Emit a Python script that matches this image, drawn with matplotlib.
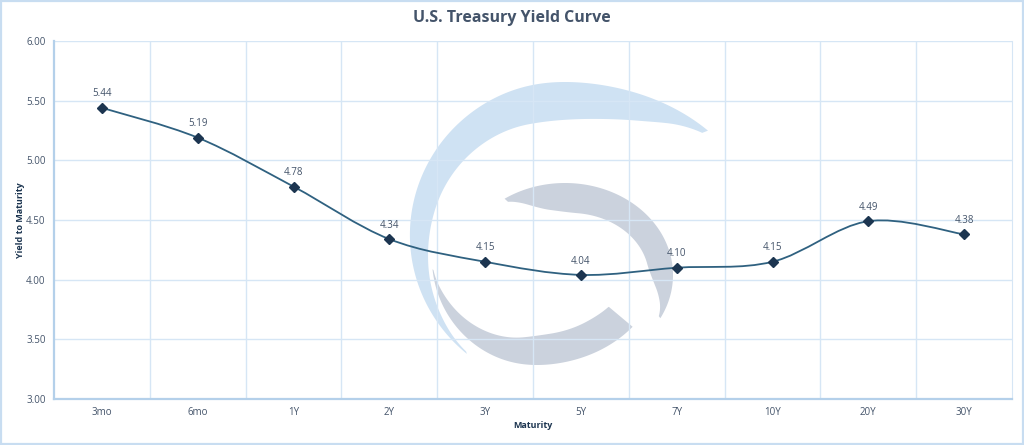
import matplotlib
matplotlib.use('Agg')
import matplotlib.pyplot as plt
import numpy as np
from matplotlib.path import Path
from matplotlib.patches import PathPatch, Polygon, Rectangle

maturities = ['3mo', '6mo', '1Y', '2Y', '3Y', '5Y', '7Y', '10Y', '20Y', '30Y']
yields = [5.44, 5.19, 4.78, 4.34, 4.15, 4.04, 4.10, 4.15, 4.49, 4.38]
y_ticks = [3.00, 3.50, 4.00, 4.50, 5.00, 5.50, 6.00]

text_col = '#44546a'
grid_col = '#d6e6f5'
spine_col = '#b4d0ea'
line_col = '#2f6180'
marker_col = '#1c3550'

plt.rcParams['font.family'] = ['Open Sans', 'DejaVu Sans']

fig = plt.figure(figsize=(10.24, 4.45), dpi=100)

# watermark logo, drawn in pixel coordinates behind the chart
wm = fig.add_axes([0, 0, 1, 1], zorder=0)
wm.set_xlim(0, 1024)
wm.set_ylim(445, 0)
wm.axis('off')


def swoosh(cx, cy, rx_r, rx_l, ry, knots, widths, color):
    a_deg = np.linspace(knots[0], knots[-1], 240)
    a = np.radians(a_deg)
    blend = (1 + np.tanh(3 * np.cos(a))) / 2
    rx = rx_l + (rx_r - rx_l) * blend
    if knots[0] > knots[-1]:
        w = np.interp(a_deg[::-1], knots[::-1], widths[::-1])[::-1]
    else:
        w = np.interp(a_deg, knots, widths)
    # soften the corners of the width profile
    k = 15
    w = np.convolve(np.pad(w, k, mode='edge'), np.ones(2 * k + 1) / (2 * k + 1), mode='valid')
    w[0], w[-1] = widths[0], widths[-1]
    ox = cx + rx * np.cos(a)
    oy = cy - ry * np.sin(a)
    ix = cx + (rx - w) * np.cos(a)
    iy = cy - (ry - w) * np.sin(a)
    pts = np.concatenate([np.column_stack([ox, oy]),
                          np.column_stack([ix, iy])[::-1]])
    wm.add_patch(Polygon(pts, closed=True, fc=color, ec='none'))


swoosh(565, 235, 196, 155, 153,
       [43, 53, 70, 95, 180, 231], [0, 16, 32, 40, 20, 0], '#cfe2f3')
swoosh(565, 275, 108, 108, 92,
       [124, 110, 90, 0, -28], [0, 22, 30, 24, 0], '#cbd2dd')
swoosh(537, 258, 125, 105, 107,
       [186, 220, 270, 310, 320], [0, 12, 30, 32, 31], '#cbd2dd')

wm.add_patch(Rectangle((1, 1), 1022, 443, fill=False, ec='#c8ddf1', lw=1.6))

ax = fig.add_axes([54 / 1024, 1 - 399 / 445, 958 / 1024, 358 / 445], zorder=1)
ax.set_facecolor('none')

x = np.arange(len(maturities))
pts = np.column_stack([x, yields])

# smoothed line: Bezier segments through the data points
verts = [tuple(pts[0])]
codes = [Path.MOVETO]
n = len(pts)
for i in range(n - 1):
    p0 = pts[max(i - 1, 0)]
    p1 = pts[i]
    p2 = pts[i + 1]
    p3 = pts[min(i + 2, n - 1)]
    c1 = p1 + (p2 - p0) / 6
    c2 = p2 - (p3 - p1) / 6
    verts += [tuple(c1), tuple(c2), tuple(p2)]
    codes += [Path.CURVE4] * 3
ax.add_patch(PathPatch(Path(verts, codes), fc='none', ec=line_col, lw=1.3, zorder=3))

ax.plot(x, yields, linestyle='none', marker='D', ms=5, color=marker_col, zorder=4)
for xi, yi in zip(x, yields):
    ax.annotate(f'{yi:.2f}', (xi, yi), xytext=(0, 6), textcoords='offset points',
                ha='center', va='bottom', fontsize=7, color=text_col)

ax.set_xlim(-0.5, len(maturities) - 0.5)
ax.set_ylim(3.0, 6.0)
ax.set_yticks(y_ticks)
ax.set_yticklabels([f'{v:.2f}' for v in y_ticks])
ax.set_xticks(x)
ax.set_xticklabels(maturities)
ax.set_xticks(np.arange(0.5, len(maturities) - 0.5), minor=True)
ax.tick_params(axis='both', which='both', length=0, labelsize=7, colors=text_col)
ax.tick_params(axis='x', pad=6)
ax.tick_params(axis='y', pad=6)

ax.grid(True, axis='y', color=grid_col, lw=1)
ax.grid(True, axis='x', which='minor', color=grid_col, lw=1)
ax.set_axisbelow(True)

ax.spines['top'].set_visible(False)
ax.spines['right'].set_color(grid_col)
ax.spines['left'].set_color(spine_col)
ax.spines['left'].set_linewidth(1.6)
ax.spines['bottom'].set_color(spine_col)
ax.spines['bottom'].set_linewidth(1.6)

ax.set_xlabel('Maturity', fontsize=6.5, fontweight='bold', color=marker_col, labelpad=2)
ax.set_ylabel('Yield to Maturity', fontsize=6.5, fontweight='bold', color=marker_col, labelpad=1)

fig.text(0.5, 1 - 18 / 445, 'U.S. Treasury Yield Curve', ha='center', va='center',
         fontsize=11.5, fontweight='bold', color=text_col)

fig.savefig('out.png', dpi=100)
